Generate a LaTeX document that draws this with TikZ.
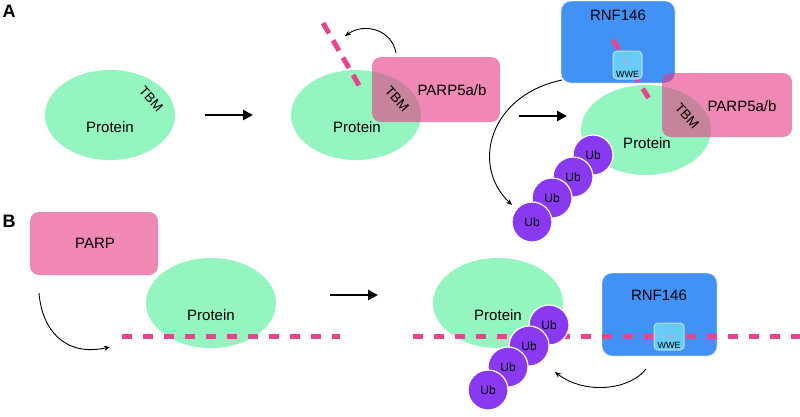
\documentclass[tikz,border=0pt]{standalone}
\usepackage{fontspec}
\setmainfont{Liberation Sans}
\usetikzlibrary{shapes.geometric,arrows.meta}
\definecolor{protgreen}{RGB}{148,245,192}
\definecolor{parppink}{RGB}{230,57,132}
\definecolor{dashpink}{RGB}{232,70,140}
\definecolor{rnfblue}{RGB}{66,146,245}
\definecolor{wwecyan}{RGB}{110,215,250}
\definecolor{ubpurple}{RGB}{137,58,240}
\tikzset{
  prot/.style={ellipse,fill=protgreen,minimum width=130pt,minimum height=90pt,inner sep=0pt},
  lbl/.style={inner sep=0pt,font=\fontsize{15pt}{17pt}\selectfont},
  tbm/.style={inner sep=0pt,font=\fontsize{13.5pt}{15pt}\selectfont,rotate=-48},
  parpbox/.style={rectangle,rounded corners=9pt,fill=parppink,fill opacity=0.6,inner sep=0pt},
  rnfbox/.style={rectangle,rounded corners=10pt,fill=rnfblue,draw=white,draw opacity=0.5,line width=0.8pt,inner sep=0pt},
  wwebox/.style={rectangle,rounded corners=4pt,fill=wwecyan,fill opacity=0.85,draw=white,draw opacity=0.6,line width=1pt,inner sep=0pt},
  wwetxt/.style={inner sep=0pt,font=\fontsize{9pt}{10pt}\selectfont},
  ub/.style={circle,fill=ubpurple,draw=white,line width=1.2pt,minimum size=40pt,inner sep=0pt,font=\fontsize{12pt}{14pt}\selectfont},
  pdash/.style={draw=dashpink,line width=5pt},
  bigarrow/.style={line width=2.5pt,-{Triangle[length=10pt,width=10pt]}},
  thinarrow/.style={line width=0.9pt,-{Stealth[length=6pt,width=5pt]}},
  panel/.style={inner sep=0pt,font=\fontsize{18pt}{20pt}\selectfont\bfseries}
}
\begin{document}
\begin{tikzpicture}[x=1pt,y=-1pt]
\useasboundingbox (0,0) rectangle (800,416);
% panel labels
\node[panel] (labA) at (9,11.5) {A};
\node[panel] (labB) at (9,221) {B};

% ---------- Panel A, step 1
\node[prot] (pa1) at (110,115) {};
\node[lbl] (pa1t) at (110,127) {Protein};
\node[tbm] (tbm1) at (151,99) {TBM};
\coordinate (a1s) at (205,115);
\coordinate (a1e) at (253,115);
\draw[bigarrow] (a1s) -- (a1e);

% ---------- Panel A, step 2
\node[prot] (pa2) at (356,115) {};
\node[lbl] (pa2t) at (357,127) {Protein};
\node[parpbox,minimum width=128pt,minimum height=65pt] (parp1) at (436,89.5) {};
\node[lbl] (parp1t) at (452,90) {PARP5a/b};
\node[tbm] (tbm2) at (397,99) {TBM};
\coordinate (d1s) at (323,23);
\coordinate (d1e) at (360,87);
\draw[pdash,dash pattern=on 12pt off 8pt] (d1s) -- (d1e);
\coordinate (c1s) at (396,53);
\coordinate (c1e) at (345,36);
\draw[thinarrow] (c1s) .. controls (392,30) and (365,22) .. (c1e);
\coordinate (a2s) at (519,116);
\coordinate (a2e) at (567,116);
\draw[bigarrow] (a2s) -- (a2e);

% ---------- Panel A, step 3
\node[prot] (pa3) at (646,130) {};
\node[lbl] (pa3t) at (647,143) {Protein};
\node[rnfbox,minimum width=114pt,minimum height=82pt] (rnf1) at (618,42) {};
\node[lbl] (rnf1t) at (618,15) {RNF146};
\coordinate (d2s) at (613,40);
\coordinate (d2e) at (651,102);
\draw[pdash,dash pattern=on 11pt off 8pt] (d2s) -- (d2e);
\node[wwebox,minimum width=29pt,minimum height=28pt] (wwe1) at (627.5,65) {};
\node[wwetxt] (wwe1t) at (627.5,74) {WWE};
\node[parpbox,minimum width=130pt,minimum height=64pt] (parp2) at (727,105) {};
\node[lbl] (parp2t) at (742,106) {PARP5a/b};
\node[tbm] (tbm3) at (687,116) {TBM};
\node[ub] (ua1) at (593,155) {Ub};
\node[ub] (ua2) at (573,177) {Ub};
\node[ub] (ua3) at (552,198) {Ub};
\node[ub] (ua4) at (532,222) {Ub};
\coordinate (c2s) at (562,80);
\coordinate (c2e) at (512,205);
\draw[thinarrow] (c2s) .. controls (490,95) and (470,165) .. (c2e);

% ---------- Panel B, step 1
\node[parpbox,minimum width=128pt,minimum height=63pt] (parpB) at (94,243.5) {};
\node[lbl] (parpBt) at (95,243) {PARP};
\node[prot] (pb1) at (211,303) {};
\node[lbl] (pb1t) at (211,315) {Protein};
\coordinate (d3s) at (122,336);
\coordinate (d3e) at (340,336);
\draw[pdash,dash pattern=on 10pt off 11pt] (d3s) -- (d3e);
\coordinate (c3s) at (39,293);
\coordinate (c3e) at (110,347);
\draw[thinarrow] (c3s) .. controls (42,330) and (65,357) .. (c3e);
\coordinate (a3s) at (330,295);
\coordinate (a3e) at (378,295);
\draw[bigarrow] (a3s) -- (a3e);

% ---------- Panel B, step 2
\node[prot] (pb2) at (498,303) {};
\node[lbl] (pb2t) at (498,315) {Protein};
\node[rnfbox,minimum width=115pt,minimum height=83pt] (rnf2) at (659.5,314.5) {};
\node[lbl] (rnf2t) at (659,295) {RNF146};
\coordinate (d4s) at (413,336);
\coordinate (d4e) at (800,336);
\draw[pdash,dash pattern=on 10pt off 11pt] (d4s) -- (d4e);
\node[wwebox,minimum width=30pt,minimum height=27pt] (wwe2) at (669,336.5) {};
\node[wwetxt] (wwe2t) at (669,345) {WWE};
\node[ub] (ub1) at (549,325) {Ub};
\node[ub] (ub2) at (529,346) {Ub};
\node[ub] (ub3) at (508,367) {Ub};
\node[ub] (ub4) at (488,390) {Ub};
\coordinate (c4s) at (646,369);
\coordinate (c4e) at (555,372);
\draw[thinarrow] (c4s) .. controls (630,390) and (585,395) .. (c4e);
\end{tikzpicture}
\end{document}
